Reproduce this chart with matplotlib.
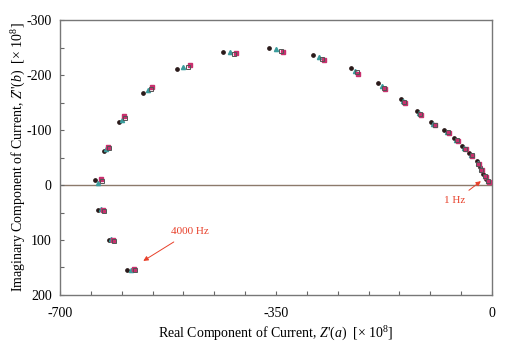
import matplotlib.pyplot as plt

plt.rcParams['font.family'] = ['Liberation Serif', 'DejaVu Serif']
plt.rcParams['mathtext.fontset'] = 'custom'
plt.rcParams['mathtext.rm'] = 'Liberation Serif'
plt.rcParams['mathtext.it'] = 'Liberation Serif:italic'

# four measurement runs, 24 frequencies each (4000 Hz ... 1 Hz)
black_x = [-591, -621, -639, -643, -629, -605, -566, -510, -436, -361, -290, -229,
           -184, -147, -122, -99, -77, -61, -48, -37, -25, -20, -14, -9]
black_y = [155, 100, 45, -9, -62, -115, -167, -211, -241, -249, -236, -213,
           -185, -157, -135, -114, -100, -85, -71, -58, -43, -33, -20, -11]
teal_x = [-585, -617, -634, -638, -625, -600, -558, -500, -425, -350, -280, -222,
          -178, -144, -118, -95, -73, -58, -45, -34, -23, -18, -12, -7]
teal_y = [154, 99, 44, -4, -65, -119, -172, -214, -242, -247, -232, -208,
          -180, -153, -131, -111, -97, -82, -68, -55, -40, -30, -17, -8]
pink_x = [-580, -614, -630, -634, -622, -596, -551, -489, -415, -339, -272, -217,
          -173, -141, -115, -92, -70, -55, -42, -32, -21, -16, -10, -5]
pink_y = [153, 100, 45, -11, -69, -125, -178, -218, -240, -242, -227, -202,
          -175, -149, -127, -109, -95, -80, -65, -53, -38, -27, -15, -5]
gray_x = [-578, -612, -628, -632, -620, -594, -553, -492, -418, -342, -275, -219,
          -175, -142, -116, -93, -71, -56, -43, -33, -22, -17, -11, -6]
gray_y = [155, 101, 47, -8, -67, -122, -175, -215, -238, -244, -229, -205,
          -177, -151, -129, -110, -96, -81, -66, -54, -39, -28, -16, -7]

x_ticks = list(range(-700, 1, 50))
x_labels = ['-700'] + [''] * 6 + ['-350'] + [''] * 6 + ['0']
y_ticks = list(range(-300, 201, 50))
y_labels = ['-300', '', '-200', '', '-100', '', '0', '', '100', '', '200']

fig = plt.figure(figsize=(5.23, 3.58), dpi=100)
ax = fig.add_axes([0.1147, 0.176, 0.826, 0.768])

ax.axhline(0, color='#8c7a6b', lw=1.0, zorder=1)

ax.plot(black_x, black_y, 'o', ms=2.4, color='#2a1a1a', zorder=3)
ax.plot(teal_x, teal_y, '^', ms=3.0, color='#3a9c9c', zorder=3)
ax.plot(pink_x, pink_y, 's', ms=3.0, color='#c8306e', zorder=3)
ax.plot(gray_x, gray_y, 's', ms=3.2, mfc='none', mec='#555555', mew=0.7, zorder=4)

ax.annotate('4000 Hz', xy=(-565, 138), xytext=(-489, 85), color='#e8402a',
            fontsize=8, ha='center', va='center',
            arrowprops=dict(arrowstyle='-|>', color='#e8402a', lw=0.7,
                            shrinkA=4, shrinkB=0, mutation_scale=7))
ax.annotate('1 Hz', xy=(-18, -7), xytext=(-60, 29), color='#e8402a',
            fontsize=8, ha='center', va='center',
            arrowprops=dict(arrowstyle='-|>', color='#e8402a', lw=0.7,
                            shrinkA=4, shrinkB=0, mutation_scale=7))

ax.set_xlim(-700, 0)
ax.set_ylim(200, -300)
ax.set_xticks(x_ticks)
ax.set_xticklabels(x_labels)
ax.set_yticks(y_ticks)
ax.set_yticklabels(y_labels)
ax.tick_params(axis='x', direction='in', length=3, pad=9, labelsize=10, color='#666666')
ax.tick_params(axis='y', direction='in', length=3, pad=6, labelsize=10, color='#666666')
for s in ax.spines.values():
    s.set_color('#777777')
    s.set_linewidth(1.0)

ax.set_xlabel(r"Real Component of Current, $Z$'$(a)$  [$\times$ 10$^8$]", fontsize=10, labelpad=3)
ax.set_ylabel(r"Imaginary Component of Current, $Z$''$(b)$  [$\times$ 10$^8$]", fontsize=10, labelpad=-1)

fig.savefig('out.png', dpi=100)
